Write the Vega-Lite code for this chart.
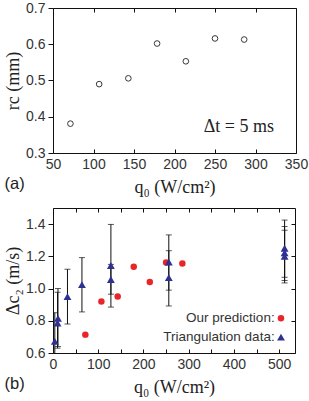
{
  "$schema": "https://vega.github.io/schema/vega-lite/v6.json",
  "padding": {"left": 4, "top": 0, "right": 2, "bottom": 0},
  "spacing": 10,
  "config": {
    "view": {"stroke": "#111", "strokeWidth": 1},
    "axis": {
      "domain": false, "grid": false, "minExtent": 0,
      "tickColor": "#111", "tickWidth": 1,
      "labelFont": "Liberation Sans", "labelFontSize": 14, "labelColor": "#333", "labelFlush": false,
      "titleFont": "Liberation Serif", "titleFontSize": 18, "titleFontWeight": "normal", "titleColor": "#222"
    },
    "title": {"font": "Liberation Sans", "fontSize": 16.5, "fontWeight": "normal", "color": "#222"}
  },
  "datasets": {
    "rc": [
      {"q0": 71.5, "rc": 0.381}, {"q0": 107, "rc": 0.490}, {"q0": 143, "rc": 0.506},
      {"q0": 178.5, "rc": 0.602}, {"q0": 214, "rc": 0.553}, {"q0": 250, "rc": 0.616}, {"q0": 286, "rc": 0.613}
    ],
    "pred": [
      {"q0": 71.5, "dc": 0.714}, {"q0": 107, "dc": 0.919}, {"q0": 143, "dc": 0.951},
      {"q0": 178.5, "dc": 1.135}, {"q0": 214, "dc": 1.041}, {"q0": 250, "dc": 1.162}, {"q0": 286, "dc": 1.156}
    ],
    "tri": [
      {"q0": 4, "dc": 0.672, "lo": 0.5, "hi": 0.85},
      {"q0": 10, "dc": 0.786, "lo": 0.63, "hi": 0.977},
      {"q0": 11, "dc": 0.815, "lo": 0.64, "hi": 1.0},
      {"q0": 32, "dc": 0.950, "lo": 0.78, "hi": 1.12},
      {"q0": 64, "dc": 1.024, "lo": 0.855, "hi": 1.192},
      {"q0": 128, "dc": 1.143, "lo": 0.885, "hi": 1.398},
      {"q0": 128, "dc": 1.056, "lo": 0.965, "hi": 1.15},
      {"q0": 256, "dc": 1.165, "lo": 0.99, "hi": 1.333},
      {"q0": 256, "dc": 1.068, "lo": 0.892, "hi": 1.235},
      {"q0": 512, "dc": 1.250, "lo": 1.07, "hi": 1.425},
      {"q0": 512, "dc": 1.222, "lo": 1.05, "hi": 1.385},
      {"q0": 512, "dc": 1.200, "lo": 1.035, "hi": 1.362}
    ],
    "legend": [
      {"q0": 490, "tx": 504, "dc": 0.815, "label": "Our prediction:", "kind": "pred"},
      {"q0": 490, "tx": 504, "dc": 0.699, "label": "Triangulation data:", "kind": "tri"}
    ],
    "note": [{"q0": 236, "rc": 0.371, "label": "Δt = 5 ms"}]
  },
  "vconcat": [
    {
      "width": 243, "height": 145,
      "title": {"text": "(a)", "orient": "bottom", "anchor": "start", "dy": -20, "offset": 0},
      "resolve": {"axis": {"x": "independent", "y": "independent"}},
      "layer": [
        {
          "data": {"name": "rc"},
          "mark": {"type": "point", "shape": "circle", "filled": false, "color": "#222", "size": 32, "strokeWidth": 0.9, "opacity": 1},
          "encoding": {
            "x": {"field": "q0", "type": "quantitative", "scale": {"domain": [50, 350], "nice": false},
                  "axis": {"values": [50, 100, 150, 200, 250, 300, 350], "tickSize": -4, "labelPadding": 8, "title": "q₀ (W/cm²)", "titlePadding": 7}},
            "y": {"field": "rc", "type": "quantitative", "scale": {"domain": [0.3, 0.7], "nice": false, "zero": false},
                  "axis": {"values": [0.3, 0.4, 0.5, 0.6, 0.7], "format": ".1f", "tickSize": 5, "labelPadding": 3, "title": "rc (mm)", "titlePadding": 3}}
          }
        },
        {
          "data": {"name": "note"},
          "mark": {"type": "text", "align": "left", "baseline": "middle", "font": "Liberation Serif", "fontSize": 18, "color": "#222"},
          "encoding": {
            "x": {"field": "q0", "type": "quantitative",
                  "axis": {"orient": "top", "values": [50, 100, 150, 200, 250, 300, 350], "tickSize": -4, "labels": false, "title": null}},
            "y": {"field": "rc", "type": "quantitative", "axis": null},
            "text": {"field": "label"}
          }
        }
      ]
    },
    {
      "width": 242, "height": 145,
      "title": {"text": "(b)", "orient": "bottom", "anchor": "start", "dy": -20, "offset": 0},
      "resolve": {"axis": {"x": "independent", "y": "independent"}},
      "layer": [
        {
          "data": {"name": "tri"},
          "mark": {"type": "errorbar", "ticks": {"size": 6, "color": "#111"}, "rule": {"color": "#111", "strokeWidth": 1}, "clip": true},
          "encoding": {
            "x": {"field": "q0", "type": "quantitative", "scale": {"domain": [0, 535], "nice": false},
                  "axis": {"values": [0, 50, 100, 150, 200, 250, 300, 350, 400, 450, 500], "labelExpr": "datum.value % 100 === 0 ? datum.label : ''",
                           "tickSize": -4, "labelPadding": 8, "title": "q₀ (W/cm²)", "titlePadding": 7}},
            "y": {"field": "lo", "type": "quantitative", "scale": {"domain": [0.6, 1.5], "nice": false, "zero": false},
                  "axis": {"values": [0.6, 0.8, 1.0, 1.2, 1.4], "format": ".1f", "tickSize": 5, "labelPadding": 3, "title": "Δc₂ (m/s)", "titlePadding": 3}},
            "y2": {"field": "hi"}
          }
        },
        {
          "data": {"name": "legend"},
          "mark": {"type": "text", "align": "right", "baseline": "middle", "font": "Liberation Sans", "fontSize": 13.5, "color": "#333"},
          "encoding": {
            "x": {"field": "q0", "type": "quantitative",
                  "axis": {"orient": "top", "values": [0, 50, 100, 150, 200, 250, 300, 350, 400, 450, 500], "tickSize": -4, "labels": false, "title": null}},
            "y": {"field": "dc", "type": "quantitative",
                  "axis": {"orient": "right", "values": [0.6, 0.8, 1.0, 1.2, 1.4], "tickSize": -4, "labels": false, "title": null}},
            "text": {"field": "label"}
          }
        },
        {
          "data": {"name": "pred"},
          "mark": {"type": "circle", "color": "#e8262a", "size": 42, "opacity": 1},
          "encoding": {
            "x": {"field": "q0", "type": "quantitative", "axis": null},
            "y": {"field": "dc", "type": "quantitative", "axis": null}
          }
        },
        {
          "data": {"name": "tri"},
          "mark": {"type": "point", "shape": "triangle-up", "filled": true, "color": "#2e3192", "size": 62, "opacity": 1},
          "encoding": {
            "x": {"field": "q0", "type": "quantitative", "axis": null},
            "y": {"field": "dc", "type": "quantitative", "axis": null}
          }
        },
        {
          "data": {"name": "legend"},
          "transform": [{"filter": "datum.kind === 'pred'"}],
          "mark": {"type": "circle", "color": "#e8262a", "size": 42, "opacity": 1},
          "encoding": {
            "x": {"field": "tx", "type": "quantitative", "axis": null},
            "y": {"field": "dc", "type": "quantitative", "axis": null}
          }
        },
        {
          "data": {"name": "legend"},
          "transform": [{"filter": "datum.kind === 'tri'"}],
          "mark": {"type": "point", "shape": "triangle-up", "filled": true, "color": "#2e3192", "size": 62, "opacity": 1},
          "encoding": {
            "x": {"field": "tx", "type": "quantitative", "axis": null},
            "y": {"field": "dc", "type": "quantitative", "axis": null}
          }
        }
      ]
    }
  ]
}
